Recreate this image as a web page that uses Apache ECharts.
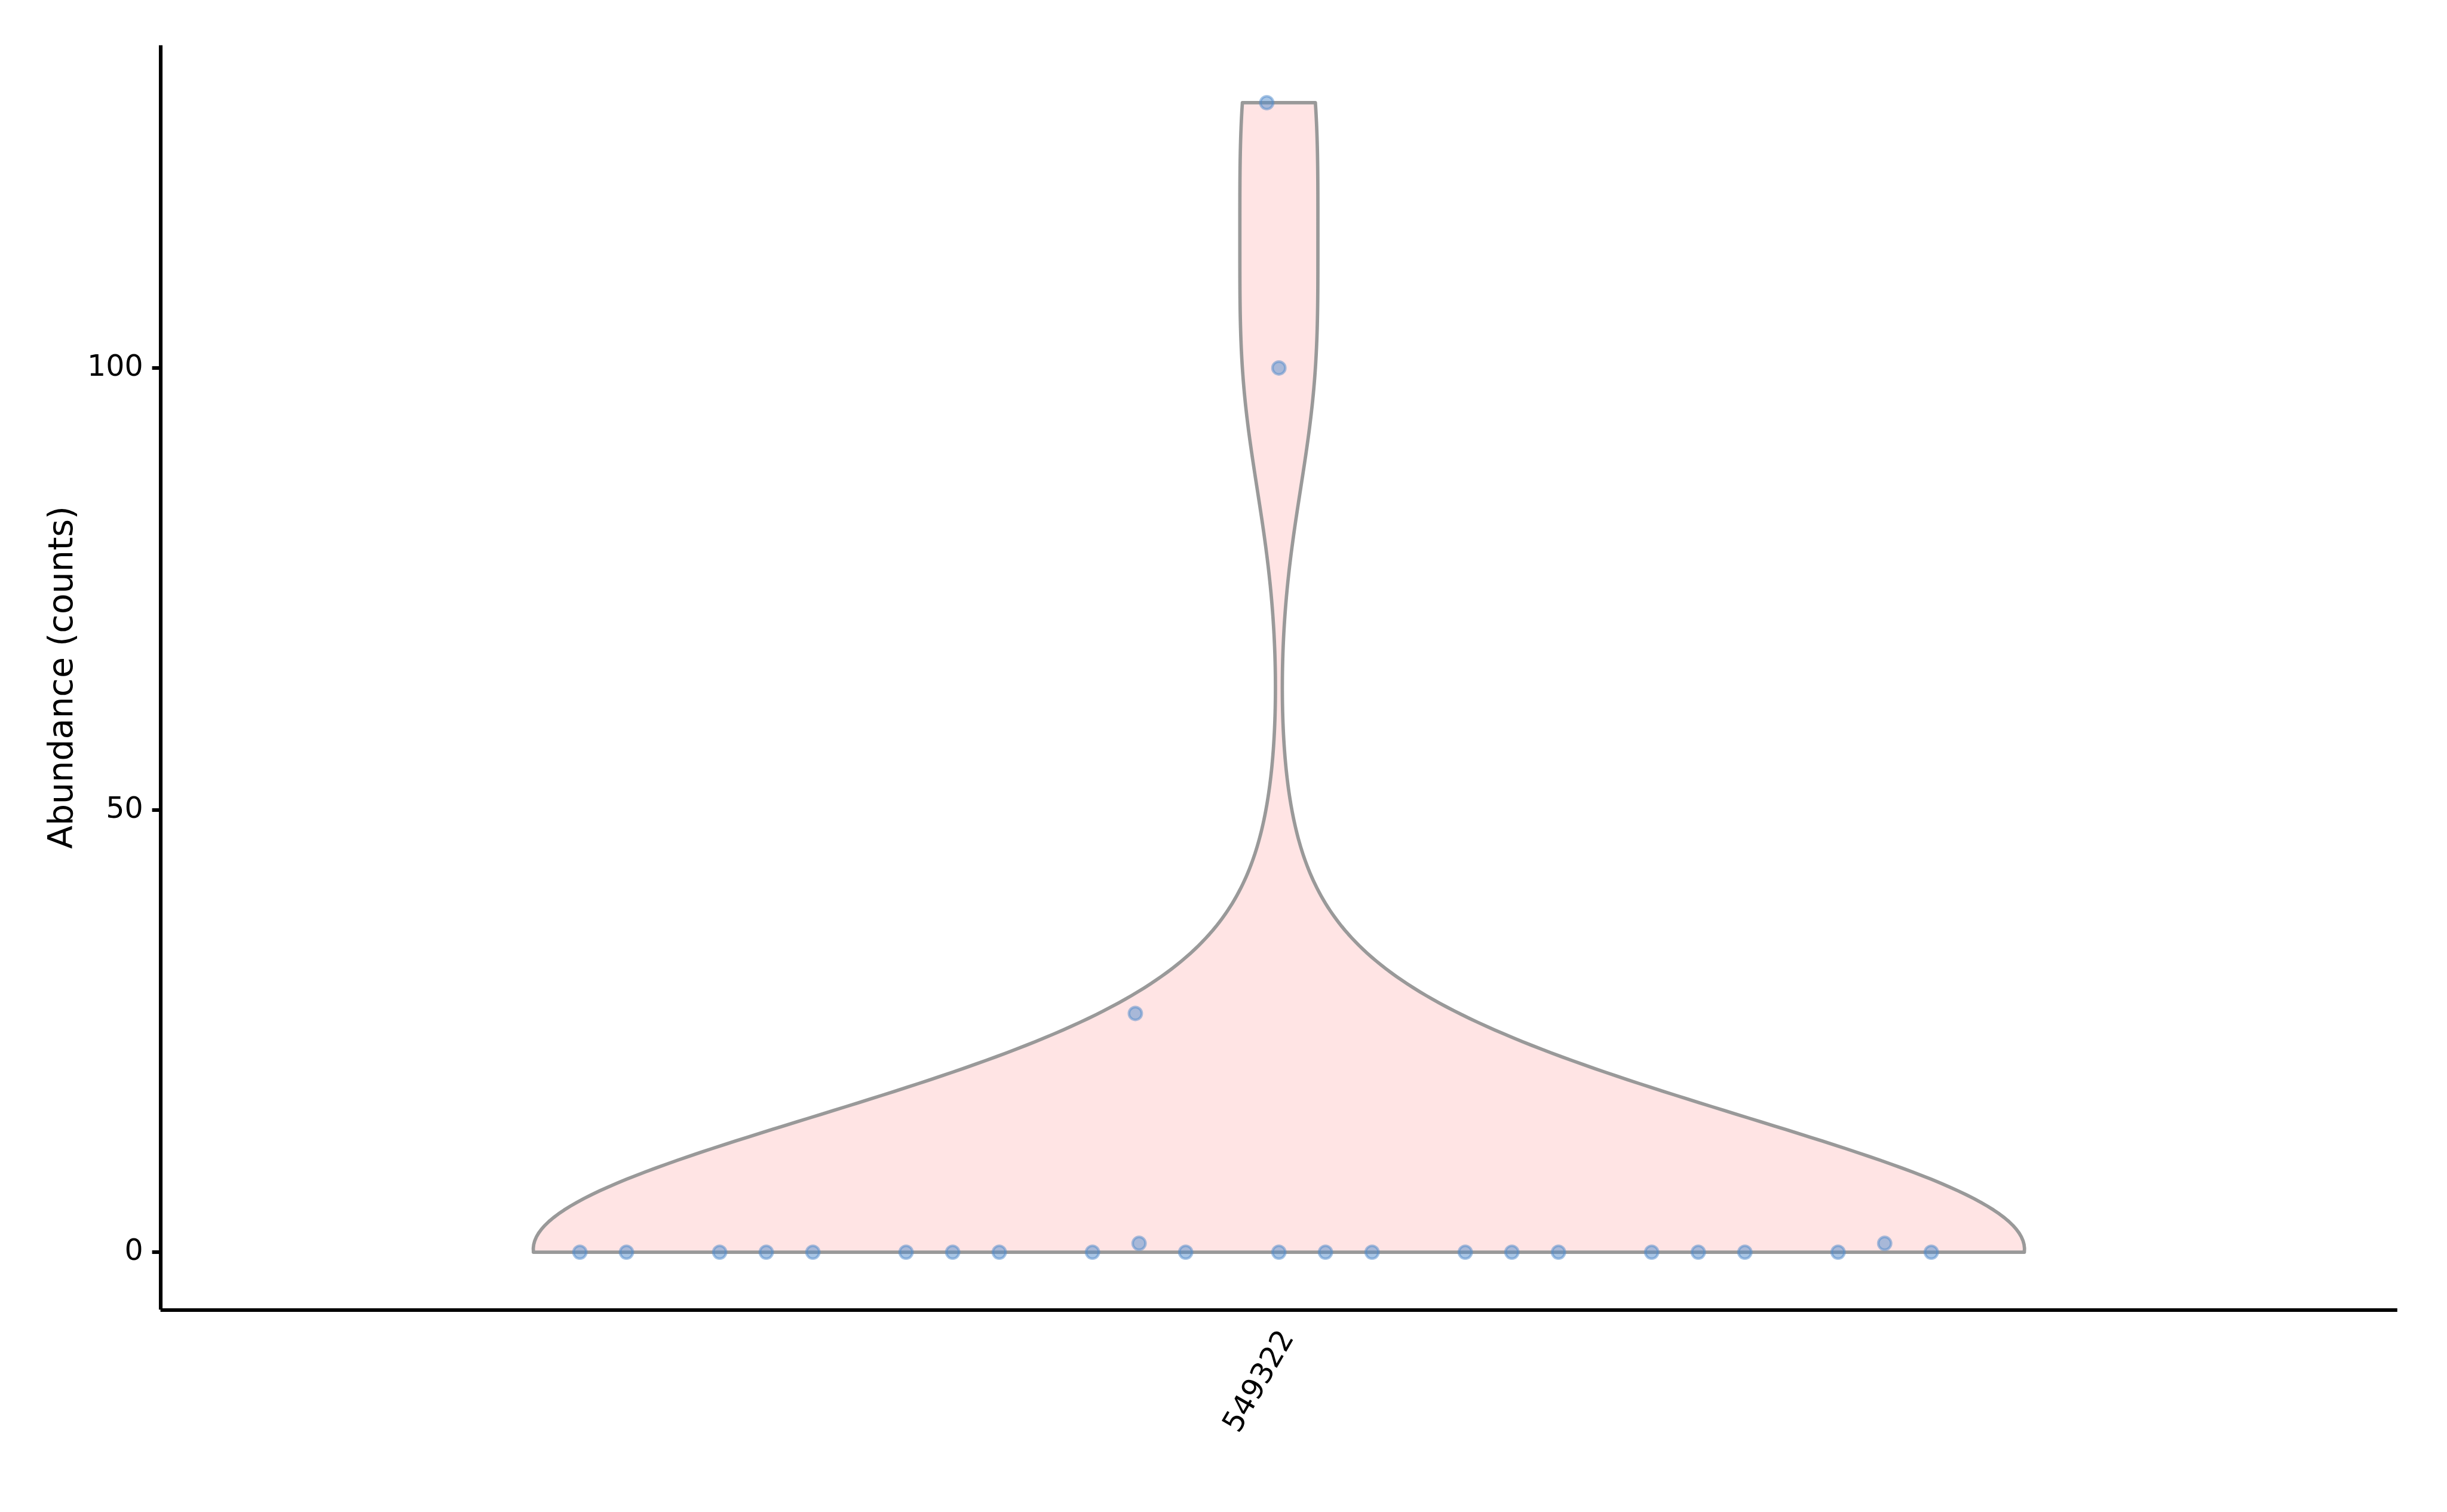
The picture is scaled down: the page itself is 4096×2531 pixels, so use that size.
<!DOCTYPE html>
<html>
<head>
<meta charset="utf-8">
<script src="https://cdn.jsdelivr.net/npm/echarts@6/dist/echarts.min.js"></script>
<style>
html,body{margin:0;padding:0;background:#fff;}
#chart{width:4096px;height:2531px;}
</style>
</head>
<body>
<div id="chart"></div>
<script>
// ---- data ----
const categories = ['549322'];
const values = [0,0,0,0,0,0,0,0,0,1,0,0,0,0,0,0,0,0,0,0,0,1,0,27,100,130];
const jitterX = [-0.375,-0.35,-0.3,-0.275,-0.25,-0.2,-0.175,-0.15,-0.1,-0.075,-0.05,0,0.025,0.05,0.1,0.125,0.15,0.2,0.225,0.25,0.3,0.325,0.35,-0.077,0,-0.0065];
const yTicks = [0, 50, 100];
const yTitle = 'Abundance (counts)';

// ---- violin density (gaussian KDE, Scott bandwidth x adjust, cut at data range) ----
const bwAdjust = 0.91;
function kdeScott(d, adj) {
  const n = d.length;
  const mean = d.reduce((a, b) => a + b, 0) / n;
  const v = d.reduce((a, b) => a + (b - mean) * (b - mean), 0) / (n - 1);
  const h = Math.sqrt(v) * Math.pow(n, -1 / 5) * adj;
  return y => d.reduce((s, xi) => s + Math.exp(-0.5 * ((y - xi) / h) * ((y - xi) / h)), 0);
}
const dens = kdeScott(values, bwAdjust);
const vmin = Math.min(...values), vmax = Math.max(...values);
const gridN = 300;
const ys = [], ds = [];
for (let i = 0; i <= gridN; i++) {
  const y = vmin + (vmax - vmin) * i / gridN;
  ys.push(y); ds.push(dens(y));
}
const dmax = Math.max(...ds);
const halfWidth = 0.4;
const violinProfile = ys.map((y, i) => [y, halfWidth * ds[i] / dmax]);

const font = 'DejaVu Sans';
const chart = echarts.init(document.getElementById('chart'), null, {renderer: 'canvas'});
const gridTop = 75.7, gridBottom = 338.7, gridLeft = 268.6, gridRight = 83.2;
const labelShift = 15;

const option = {
  animation: false,
  backgroundColor: '#ffffff',
  grid: [
    {left: gridLeft, right: gridRight, top: gridTop, bottom: gridBottom},
    {left: gridLeft + labelShift, right: gridRight - labelShift, top: gridTop, bottom: gridBottom}
  ],
  xAxis: [
    {
      type: 'value', gridIndex: 0, min: -0.6, max: 0.6,
      axisLine: {show: true, onZero: false, lineStyle: {color: '#000', width: 6.1, cap: 'butt'}},
      axisTick: {show: false}, axisLabel: {show: false}, splitLine: {show: false}
    },
    {
      type: 'category', gridIndex: 1, data: categories,
      axisLine: {show: false}, axisTick: {show: false}, splitLine: {show: false},
      axisLabel: {rotate: 60, margin: 40, fontSize: 49, fontFamily: font, color: '#000'}
    }
  ],
  yAxis: [
    {
      type: 'value', gridIndex: 0, min: -6.5, max: 136.5,
      axisLine: {show: true, onZero: false, lineStyle: {color: '#000', width: 6.1, cap: 'butt'}},
      axisTick: {show: true, length: 14, customValues: yTicks, lineStyle: {color: '#000', width: 6.1}},
      axisLabel: {customValues: yTicks, margin: 29, fontSize: 49, fontFamily: font, color: '#000'},
      splitLine: {show: false},
      name: yTitle, nameLocation: 'middle', nameGap: 134,
      nameTextStyle: {fontSize: 57, fontFamily: font, color: '#000'}
    },
    {type: 'value', gridIndex: 1, show: false, min: 0, max: 1}
  ],
  series: [
    {
      type: 'custom',
      xAxisIndex: 0, yAxisIndex: 0,
      coordinateSystem: 'cartesian2d',
      data: [[0, 0]],
      clip: false,
      silent: true,
      z: 2,
      renderItem: function (params, api) {
        const pts = [];
        for (let i = 0; i < violinProfile.length; i++) {
          pts.push(api.coord([violinProfile[i][1], violinProfile[i][0]]));
        }
        for (let i = violinProfile.length - 1; i >= 0; i--) {
          pts.push(api.coord([-violinProfile[i][1], violinProfile[i][0]]));
        }
        return {
          type: 'polygon',
          shape: {points: pts},
          style: {fill: '#FFE4E4', stroke: '#999999', lineWidth: 5.7, lineJoin: 'round'}
        };
      }
    },
    {
      type: 'scatter',
      xAxisIndex: 0, yAxisIndex: 0,
      z: 3,
      symbol: 'circle',
      symbolSize: 21.5,
      data: values.map((v, i) => [jitterX[i], v]),
      itemStyle: {color: 'rgba(81,140,204,0.5)', borderColor: 'rgba(81,140,204,0.5)', borderWidth: 4.4, opacity: 1},
      silent: true
    }
  ]
};
chart.setOption(option);
</script>
</body>
</html>
